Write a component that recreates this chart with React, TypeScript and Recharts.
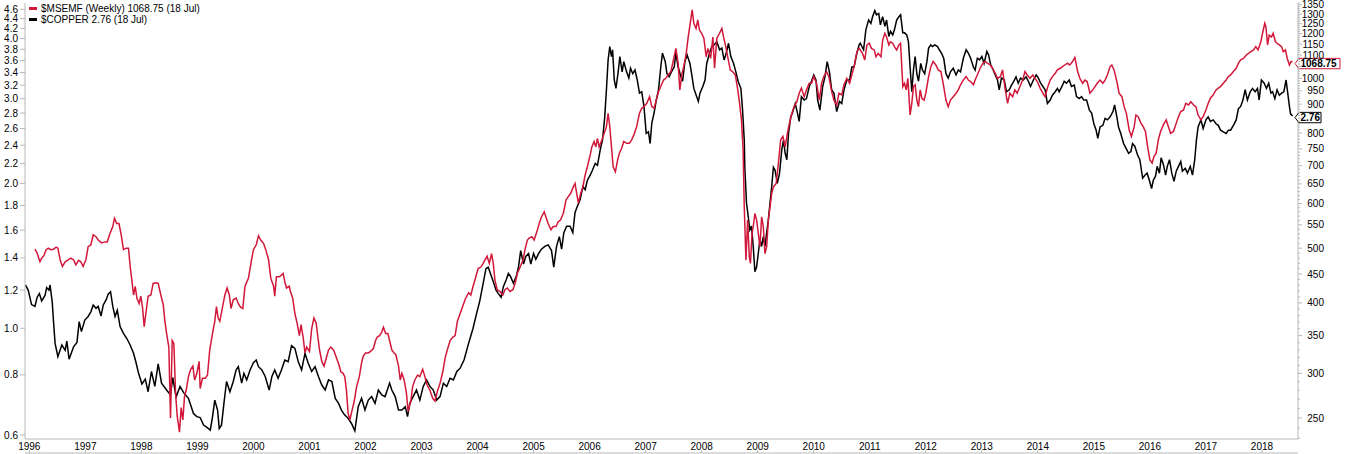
import React from "react";
import { LineChart, Line, XAxis, YAxis, ReferenceDot } from "recharts";

// $COPPER weekly (decimal year, price)
const copperSeries: [number, number][] = [
  [1995.93,1.23],[1995.98,1.2],[1996.04,1.12],[1996.1,1.11],[1996.14,1.16],[1996.18,1.18],[1996.22,1.14],[1996.28,1.17],[1996.31,1.215],[1996.35,1.2],[1996.37,1.23],[1996.41,1.13],[1996.43,1.04],[1996.46,0.93],[1996.51,0.873],[1996.58,0.923],[1996.64,0.9],[1996.67,0.94],[1996.71,0.862],[1996.79,0.915],[1996.85,0.934],[1996.89,1.032],[1996.93,0.984],[1996.99,1.04],
  [1997.05,1.058],[1997.1,1.083],[1997.14,1.118],[1997.19,1.1],[1997.23,1.11],[1997.28,1.06],[1997.32,1.118],[1997.37,1.145],[1997.41,1.178],[1997.45,1.19],[1997.49,1.11],[1997.53,1.058],[1997.57,1.09],[1997.62,1.008],[1997.68,0.976],[1997.74,0.952],[1997.8,0.923],[1997.86,0.887],[1997.9,0.853],[1997.95,0.806],
  [1998.01,0.766],[1998.07,0.784],[1998.12,0.738],[1998.18,0.813],[1998.24,0.757],[1998.3,0.843],[1998.36,0.769],[1998.45,0.744],[1998.52,0.727],[1998.56,0.79],[1998.62,0.72],[1998.69,0.757],[1998.76,0.733],[1998.84,0.715],[1998.93,0.665],[1998.99,0.655],
  [1999.05,0.652],[1999.11,0.629],[1999.17,0.622],[1999.23,0.614],[1999.27,0.655],[1999.31,0.709],[1999.36,0.676],[1999.39,0.619],[1999.43,0.629],[1999.48,0.709],[1999.52,0.775],[1999.58,0.738],[1999.64,0.775],[1999.69,0.819],[1999.73,0.832],[1999.79,0.769],[1999.83,0.806],[1999.88,0.781],[1999.94,0.819],
  [2000.0,0.848],[2000.05,0.859],[2000.09,0.832],[2000.15,0.819],[2000.21,0.794],[2000.28,0.744],[2000.33,0.794],[2000.38,0.819],[2000.44,0.787],[2000.5,0.819],[2000.56,0.859],[2000.62,0.852],[2000.68,0.92],[2000.74,0.908],[2000.8,0.852],[2000.86,0.819],[2000.92,0.887],[2000.98,0.845],
  [2001.04,0.813],[2001.1,0.832],[2001.16,0.794],[2001.22,0.762],[2001.28,0.744],[2001.34,0.781],[2001.4,0.775],[2001.46,0.715],[2001.52,0.698],[2001.57,0.676],[2001.63,0.66],[2001.69,0.65],[2001.75,0.634],[2001.81,0.612],[2001.87,0.687],[2001.93,0.715],[2001.99,0.676],
  [2002.05,0.709],[2002.11,0.721],[2002.17,0.698],[2002.23,0.744],[2002.29,0.727],[2002.35,0.721],[2002.43,0.769],[2002.47,0.744],[2002.53,0.721],[2002.59,0.676],[2002.65,0.676],[2002.71,0.687],[2002.75,0.655],[2002.79,0.698],[2002.85,0.721],[2002.91,0.744],[2002.97,0.709],
  [2003.03,0.757],[2003.09,0.781],[2003.15,0.757],[2003.21,0.744],[2003.27,0.709],[2003.33,0.721],[2003.39,0.769],[2003.45,0.757],[2003.51,0.787],[2003.57,0.781],[2003.63,0.813],[2003.69,0.826],[2003.76,0.86],[2003.84,0.93],[2003.92,1.0],[2003.98,1.07],
  [2004.04,1.14],[2004.1,1.24],[2004.15,1.33],[2004.19,1.34],[2004.23,1.3],[2004.28,1.25],[2004.33,1.2],[2004.37,1.18],[2004.42,1.16],[2004.46,1.22],[2004.51,1.26],[2004.55,1.3],[2004.59,1.28],[2004.64,1.24],[2004.69,1.28],[2004.73,1.34],[2004.77,1.45],[2004.82,1.36],[2004.86,1.41],[2004.91,1.43],[2004.95,1.36],
  [2005.0,1.43],[2005.04,1.39],[2005.09,1.43],[2005.14,1.46],[2005.2,1.48],[2005.26,1.49],[2005.32,1.45],[2005.36,1.34],[2005.41,1.48],[2005.46,1.55],[2005.5,1.46],[2005.54,1.58],[2005.59,1.63],[2005.65,1.63],[2005.7,1.58],[2005.74,1.74],[2005.78,1.79],[2005.83,1.85],[2005.88,1.97],[2005.92,1.94],[2005.96,2.03],
  [2006.01,2.08],[2006.05,2.13],[2006.1,2.2],[2006.14,2.18],[2006.19,2.35],[2006.23,2.46],[2006.27,2.75],[2006.3,3.13],[2006.33,3.61],[2006.36,3.85],[2006.39,3.67],[2006.41,3.79],[2006.44,3.28],[2006.47,3.15],[2006.51,3.41],[2006.54,3.67],[2006.58,3.41],[2006.61,3.58],[2006.66,3.41],[2006.7,3.31],[2006.73,3.47],[2006.77,3.38],[2006.81,3.44],[2006.85,3.28],[2006.89,3.08],[2006.93,3.1],[2006.97,2.89],
  [2007.01,2.54],[2007.05,2.56],[2007.08,2.42],[2007.11,2.67],[2007.15,2.8],[2007.19,2.98],[2007.23,3.13],[2007.27,3.49],[2007.3,3.73],[2007.35,3.58],[2007.38,3.38],[2007.42,3.33],[2007.46,3.41],[2007.51,3.49],[2007.54,3.73],[2007.58,3.49],[2007.63,3.33],[2007.66,3.26],[2007.7,3.58],[2007.74,3.7],[2007.79,3.55],[2007.82,3.38],[2007.86,3.15],[2007.91,3.03],[2007.94,2.96],[2007.97,3.08],
  [2008.02,3.18],[2008.06,3.28],[2008.09,3.55],[2008.14,3.73],[2008.18,3.85],[2008.22,3.88],[2008.27,3.94],[2008.32,3.79],[2008.36,3.82],[2008.4,3.61],[2008.43,3.7],[2008.48,3.91],[2008.52,3.67],[2008.57,3.55],[2008.61,3.41],[2008.65,3.26],[2008.7,3.15],[2008.73,2.84],[2008.76,2.46],[2008.77,2.16],[2008.8,1.82],[2008.83,1.71],[2008.86,1.6],[2008.89,1.63],[2008.92,1.48],[2008.95,1.31],[2008.98,1.34],
  [2009.01,1.43],[2009.04,1.53],[2009.07,1.48],[2009.1,1.55],[2009.13,1.48],[2009.16,1.58],[2009.19,1.68],[2009.22,1.82],[2009.25,1.97],[2009.28,2.16],[2009.31,2.13],[2009.35,2.0],[2009.39,2.1],[2009.43,2.35],[2009.46,2.46],[2009.49,2.31],[2009.52,2.24],[2009.55,2.54],[2009.59,2.75],[2009.62,2.8],[2009.67,2.93],[2009.71,2.8],[2009.74,2.69],[2009.78,3.03],[2009.83,2.98],[2009.87,3.0],[2009.92,3.18],[2009.96,3.26],
  [2010.0,3.36],[2010.04,3.28],[2010.07,2.98],[2010.11,2.84],[2010.16,3.18],[2010.2,3.33],[2010.24,3.58],[2010.28,3.41],[2010.32,3.13],[2010.36,3.08],[2010.41,2.82],[2010.46,2.96],[2010.5,2.93],[2010.54,3.13],[2010.59,3.28],[2010.64,3.28],[2010.68,3.49],[2010.72,3.49],[2010.77,3.73],[2010.81,3.88],
  [2010.83,3.91],[2010.89,3.79],[2010.93,4.17],[2010.98,4.37],[2011.02,4.3],[2011.05,4.44],[2011.09,4.57],[2011.12,4.48],[2011.16,4.51],[2011.19,4.27],[2011.23,4.44],[2011.27,4.24],[2011.3,4.37],[2011.34,4.04],[2011.37,4.14],[2011.41,4.07],[2011.44,4.17],[2011.48,4.37],[2011.52,4.44],[2011.55,4.48],[2011.59,4.11],[2011.62,4.11],[2011.66,4.07],[2011.69,3.94],[2011.72,3.49],[2011.75,3.1],[2011.78,3.44],[2011.81,3.67],[2011.84,3.38],[2011.87,3.26],[2011.91,3.55],[2011.94,3.44],[2011.98,3.38],
  [2012.02,3.58],[2012.05,3.82],[2012.09,3.88],[2012.12,3.85],[2012.16,3.88],[2012.21,3.85],[2012.24,3.79],[2012.28,3.73],[2012.32,3.64],[2012.36,3.38],[2012.4,3.31],[2012.44,3.41],[2012.49,3.47],[2012.54,3.36],[2012.58,3.44],[2012.62,3.41],[2012.67,3.64],[2012.72,3.79],[2012.76,3.73],[2012.8,3.64],[2012.85,3.49],[2012.88,3.44],[2012.92,3.64],[2012.96,3.61],
  [2013.0,3.67],[2013.04,3.55],[2013.09,3.76],[2013.12,3.7],[2013.16,3.52],[2013.19,3.47],[2013.24,3.36],[2013.28,3.28],[2013.31,3.13],[2013.35,3.31],[2013.4,3.28],[2013.44,3.1],[2013.49,3.13],[2013.53,3.2],[2013.57,3.26],[2013.61,3.33],[2013.65,3.23],[2013.69,3.31],[2013.74,3.28],[2013.79,3.33],[2013.83,3.26],[2013.87,3.18],[2013.92,3.28],[2013.97,3.36],
  [2014.01,3.31],[2014.05,3.23],[2014.09,3.18],[2014.13,3.13],[2014.17,2.93],[2014.22,2.98],[2014.26,3.05],[2014.31,3.1],[2014.35,3.15],[2014.38,3.1],[2014.43,3.18],[2014.47,3.26],[2014.51,3.23],[2014.56,3.28],[2014.6,3.18],[2014.65,3.2],[2014.69,3.03],[2014.74,3.0],[2014.78,3.03],[2014.82,2.98],[2014.87,2.98],[2014.92,2.84],[2014.96,2.8],
  [2015.0,2.66],[2015.04,2.58],[2015.07,2.48],[2015.11,2.62],[2015.16,2.64],[2015.2,2.73],[2015.24,2.71],[2015.29,2.75],[2015.34,2.82],[2015.37,2.91],[2015.41,2.75],[2015.44,2.62],[2015.48,2.54],[2015.53,2.42],[2015.57,2.37],[2015.62,2.31],[2015.66,2.33],[2015.69,2.42],[2015.73,2.39],[2015.78,2.29],[2015.82,2.24],[2015.87,2.05],[2015.91,2.08],[2015.95,2.1],[2015.99,2.03],
  [2016.03,1.95],[2016.06,2.03],[2016.1,2.07],[2016.13,2.17],[2016.17,2.1],[2016.2,2.26],[2016.24,2.19],[2016.28,2.08],[2016.31,2.17],[2016.35,2.24],[2016.39,2.1],[2016.43,2.02],[2016.47,2.12],[2016.51,2.17],[2016.55,2.22],[2016.58,2.12],[2016.63,2.15],[2016.67,2.1],[2016.72,2.17],[2016.76,2.08],[2016.8,2.24],[2016.83,2.46],[2016.86,2.62],[2016.91,2.71],[2016.95,2.6],
  [2017.0,2.71],[2017.04,2.75],[2017.08,2.69],[2017.13,2.71],[2017.18,2.66],[2017.22,2.64],[2017.26,2.58],[2017.31,2.56],[2017.36,2.54],[2017.4,2.58],[2017.44,2.58],[2017.49,2.64],[2017.54,2.71],[2017.58,2.86],[2017.62,2.89],[2017.66,2.98],[2017.7,3.13],[2017.74,2.98],[2017.79,3.1],[2017.83,3.15],[2017.88,3.1],[2017.92,3.15],[2017.95,2.98],[2017.99,3.28],
  [2018.04,3.23],[2018.08,3.15],[2018.12,3.23],[2018.16,3.08],[2018.19,3.1],[2018.23,3.0],[2018.27,3.13],[2018.31,3.05],[2018.35,3.08],[2018.39,3.1],[2018.43,3.28],[2018.46,3.08],[2018.49,2.89],[2018.51,2.79],[2018.545,2.76],
];

// $MSEMF weekly (decimal year, index level)
const msemfSeries: [number, number][] = [
  [1996.1,498],[1996.14,490],[1996.19,473],[1996.22,480],[1996.26,485],[1996.3,497],[1996.34,500],[1996.38,497],[1996.43,498],[1996.48,502],[1996.51,500],[1996.55,477],[1996.59,464],[1996.64,473],[1996.7,477],[1996.74,480],[1996.79,477],[1996.83,467],[1996.88,476],[1996.92,473],[1996.96,464],
  [1997.01,477],[1997.05,503],[1997.1,507],[1997.14,528],[1997.19,524],[1997.23,517],[1997.29,511],[1997.35,513],[1997.39,513],[1997.44,531],[1997.49,546],[1997.52,565],[1997.56,553],[1997.6,553],[1997.64,528],[1997.68,497],[1997.73,500],[1997.77,500],[1997.8,464],[1997.83,439],[1997.86,413],[1997.89,428],[1997.92,408],[1997.96,399],[1997.99,411],
  [1998.02,393],[1998.05,363],[1998.08,383],[1998.12,411],[1998.17,413],[1998.21,433],[1998.26,434],[1998.3,433],[1998.34,416],[1998.39,397],[1998.42,371],[1998.45,353],[1998.49,334],[1998.52,250],[1998.55,343],[1998.58,339],[1998.61,277],[1998.64,252],[1998.68,236],[1998.71,261],[1998.74,248],[1998.77,273],[1998.8,280],[1998.84,296],[1998.88,305],[1998.92,309],[1998.95,292],[1998.99,300],
  [1999.03,315],[1999.05,282],[1999.09,294],[1999.14,294],[1999.18,298],[1999.22,330],[1999.27,353],[1999.31,371],[1999.34,394],[1999.37,376],[1999.4,371],[1999.45,394],[1999.49,413],[1999.53,425],[1999.57,413],[1999.6,391],[1999.64,405],[1999.69,408],[1999.73,399],[1999.77,393],[1999.81,391],[1999.85,428],[1999.91,442],[1999.96,473],
  [2000.0,497],[2000.05,507],[2000.09,526],[2000.13,517],[2000.18,510],[2000.22,497],[2000.27,477],[2000.31,442],[2000.36,428],[2000.38,411],[2000.41,445],[2000.46,445],[2000.5,448],[2000.53,451],[2000.56,436],[2000.59,425],[2000.64,428],[2000.66,419],[2000.7,408],[2000.74,383],[2000.78,368],[2000.82,350],[2000.85,366],[2000.89,346],[2000.92,326],[2000.95,334],
  [2001.0,328],[2001.04,360],[2001.08,376],[2001.12,368],[2001.15,348],[2001.18,330],[2001.22,315],[2001.26,309],[2001.31,322],[2001.34,330],[2001.38,334],[2001.43,330],[2001.47,322],[2001.52,312],[2001.56,302],[2001.6,300],[2001.63,296],[2001.66,280],[2001.69,255],[2001.72,248],[2001.76,258],[2001.8,268],[2001.84,284],[2001.89,296],[2001.93,313],[2001.96,322],
  [2002.0,326],[2002.05,326],[2002.09,328],[2002.14,332],[2002.18,343],[2002.21,348],[2002.25,350],[2002.29,355],[2002.32,362],[2002.36,353],[2002.4,353],[2002.43,343],[2002.47,330],[2002.51,326],[2002.54,324],[2002.59,309],[2002.62,292],[2002.65,300],[2002.69,292],[2002.73,277],[2002.76,257],[2002.81,268],[2002.84,284],[2002.88,292],[2002.93,298],[2002.97,296],
  [2003.02,305],[2003.06,296],[2003.1,286],[2003.15,280],[2003.2,271],[2003.24,268],[2003.28,278],[2003.33,288],[2003.38,302],[2003.42,319],[2003.46,330],[2003.51,343],[2003.56,348],[2003.6,350],[2003.64,371],[2003.69,383],[2003.78,406],[2003.84,417],[2003.88,413],[2003.92,428],[2003.97,445],
  [2004.01,460],[2004.06,463],[2004.1,470],[2004.15,480],[2004.17,484],[2004.21,470],[2004.25,489],[2004.28,470],[2004.31,439],[2004.35,422],[2004.4,419],[2004.45,413],[2004.49,422],[2004.53,425],[2004.58,419],[2004.63,422],[2004.67,433],[2004.71,451],[2004.76,463],[2004.81,476],[2004.85,499],[2004.89,517],[2004.92,521],[2004.97,524],
  [2005.01,517],[2005.06,535],[2005.1,553],[2005.14,568],[2005.19,580],[2005.22,568],[2005.26,553],[2005.31,539],[2005.35,546],[2005.4,546],[2005.44,557],[2005.48,561],[2005.53,576],[2005.58,609],[2005.62,617],[2005.66,625],[2005.71,642],[2005.74,651],[2005.77,625],[2005.8,601],[2005.84,625],[2005.88,642],[2005.92,674],[2005.96,697],
  [2006.01,731],[2006.04,756],[2006.08,773],[2006.11,756],[2006.14,783],[2006.17,756],[2006.22,778],[2006.26,799],[2006.3,821],[2006.33,867],[2006.36,821],[2006.39,756],[2006.42,697],[2006.46,683],[2006.5,717],[2006.53,736],[2006.57,751],[2006.61,773],[2006.66,767],[2006.71,767],[2006.75,778],[2006.79,794],[2006.84,821],[2006.89,867],[2006.93,885],[2006.97,891],
  [2007.02,903],[2007.07,928],[2007.11,891],[2007.15,885],[2007.19,915],[2007.23,948],[2007.27,967],[2007.32,993],[2007.36,1000],[2007.4,1014],[2007.45,1028],[2007.49,1071],[2007.54,1130],[2007.58,1064],[2007.61,954],[2007.65,1021],[2007.68,1049],[2007.72,1100],[2007.76,1184],[2007.8,1260],[2007.83,1322],[2007.86,1252],[2007.9,1226],[2007.93,1269],[2007.96,1218],
  [2008.0,1202],[2008.04,1177],[2008.08,1092],[2008.11,1130],[2008.16,1085],[2008.2,1184],[2008.23,1042],[2008.27,1177],[2008.32,1202],[2008.36,1226],[2008.39,1184],[2008.43,1138],[2008.47,1085],[2008.51,1035],[2008.55,1028],[2008.6,1014],[2008.64,961],[2008.67,915],[2008.71,844],[2008.74,746],[2008.76,592],[2008.79,476],[2008.82,561],[2008.85,483],[2008.87,470],[2008.9,532],[2008.92,546],[2008.95,576],[2008.98,561],
  [2009.01,532],[2009.04,503],[2009.07,568],[2009.1,546],[2009.13,489],[2009.16,503],[2009.19,561],[2009.22,592],[2009.25,625],[2009.28,642],[2009.33,651],[2009.37,708],[2009.41,778],[2009.45,789],[2009.49,756],[2009.53,799],[2009.56,827],[2009.61,867],[2009.65,891],[2009.7,909],[2009.74,941],[2009.78,961],[2009.83,928],[2009.87,954],[2009.92,980],[2009.96,980],
  [2010.0,1007],[2010.05,980],[2010.1,915],[2010.14,980],[2010.18,1007],[2010.23,1028],[2010.27,1007],[2010.32,948],[2010.36,915],[2010.41,897],[2010.45,941],[2010.5,935],[2010.54,974],[2010.59,1000],[2010.64,980],[2010.68,1014],[2010.72,1049],[2010.77,1115],[2010.81,1130],
  [2010.87,1107],[2010.91,1078],[2010.95,1146],[2010.99,1154],[2011.03,1130],[2011.08,1123],[2011.11,1092],[2011.15,1107],[2011.2,1092],[2011.23,1169],[2011.27,1202],[2011.3,1184],[2011.34,1146],[2011.37,1161],[2011.41,1154],[2011.44,1138],[2011.48,1123],[2011.52,1146],[2011.55,1154],[2011.59,967],[2011.62,980],[2011.65,954],[2011.68,1000],[2011.72,861],[2011.75,903],[2011.78,967],[2011.81,974],[2011.84,915],[2011.87,891],[2011.9,954],[2011.93,922],[2011.97,915],
  [2012.0,941],[2012.05,1007],[2012.09,1049],[2012.13,1071],[2012.18,1056],[2012.22,1035],[2012.27,1028],[2012.31,980],[2012.36,915],[2012.4,891],[2012.44,915],[2012.49,928],[2012.54,941],[2012.58,954],[2012.62,974],[2012.67,993],[2012.72,1007],[2012.76,993],[2012.8,987],[2012.85,974],[2012.88,993],[2012.92,1014],[2012.97,1042],
  [2013.02,1064],[2013.06,1071],[2013.1,1064],[2013.15,1056],[2013.19,1042],[2013.24,1021],[2013.28,1000],[2013.33,1007],[2013.37,1035],[2013.41,967],[2013.46,903],[2013.5,941],[2013.55,928],[2013.59,954],[2013.63,941],[2013.68,967],[2013.73,993],[2013.77,1028],[2013.81,1014],[2013.86,1000],[2013.91,1014],[2013.95,1000],[2013.99,987],
  [2014.04,961],[2014.09,941],[2014.13,928],[2014.17,961],[2014.22,993],[2014.26,1007],[2014.31,1021],[2014.35,1035],[2014.4,1042],[2014.44,1049],[2014.48,1056],[2014.53,1064],[2014.57,1056],[2014.62,1071],[2014.66,1089],[2014.71,1028],[2014.75,1000],[2014.8,980],[2014.84,993],[2014.88,987],[2014.93,941],[2014.98,954],
  [2015.02,967],[2015.06,980],[2015.11,993],[2015.16,980],[2015.2,993],[2015.24,1014],[2015.29,1049],[2015.32,1056],[2015.36,1035],[2015.41,987],[2015.45,941],[2015.5,928],[2015.54,891],[2015.58,867],[2015.63,810],[2015.67,789],[2015.72,821],[2015.75,861],[2015.79,855],[2015.84,833],[2015.88,821],[2015.92,805],[2015.96,756],
  [2016.0,717],[2016.04,708],[2016.07,726],[2016.11,736],[2016.15,778],[2016.19,805],[2016.24,827],[2016.29,844],[2016.33,821],[2016.37,799],[2016.42,805],[2016.47,833],[2016.51,855],[2016.55,873],[2016.6,879],[2016.64,903],[2016.69,897],[2016.73,909],[2016.78,897],[2016.82,891],[2016.86,861],[2016.91,844],[2016.95,855],
  [2017.0,879],[2017.04,903],[2017.08,922],[2017.13,935],[2017.18,954],[2017.22,961],[2017.26,967],[2017.31,980],[2017.36,993],[2017.4,1007],[2017.44,1014],[2017.49,1028],[2017.54,1042],[2017.58,1064],[2017.62,1078],[2017.67,1085],[2017.72,1100],[2017.76,1107],[2017.8,1115],[2017.85,1123],[2017.89,1138],[2017.93,1123],[2017.98,1161],
  [2018.01,1202],[2018.05,1252],[2018.07,1235],[2018.1,1146],[2018.13,1193],[2018.17,1184],[2018.2,1202],[2018.24,1161],[2018.27,1154],[2018.31,1146],[2018.35,1138],[2018.38,1115],[2018.42,1123],[2018.45,1085],[2018.49,1056],[2018.52,1071],[2018.545,1068.75],
];

const yearTicks = [1996,1997,1998,1999,2000,2001,2002,2003,2004,2005,2006,2007,2008,2009,2010,2011,2012,2013,2014,2015,2016,2017,2018];
const copperTicks = [0.6,0.8,1.0,1.2,1.4,1.6,1.8,2.0,2.2,2.4,2.6,2.8,3.0,3.2,3.4,3.6,3.8,4.0,4.2,4.4,4.6];
const msemfLabelTicks = [250,300,350,400,450,500,550,600,650,700,750,800,850,900,950,1000,1050,1100,1150,1200,1250,1300,1350];
const msemfHiddenLabels = [850, 1050];
const msemfMinorTicks: number[] = [];
for (let v = 230; v <= 1360; v += 10) msemfMinorTicks.push(v);

const copperData = copperSeries.map(([t, v]) => ({ t, v }));
const msemfData = msemfSeries.map(([t, v]) => ({ t, v }));
const lastCopper = copperSeries[copperSeries.length - 1];
const lastMsemf = msemfSeries[msemfSeries.length - 1];

const X_DOMAIN: [number, number] = [1995.923, 2018.643];
const LEFT_DOMAIN: [number, number] = [0.5886, 4.741];
const RIGHT_DOMAIN: [number, number] = [229.5, 1360];

const RED = "#d2183a";
const AXIS = "#b8b8b8";
const FONT = "'Liberation Sans', Arial, sans-serif";

const XTick = (props: any) => {
  const { x, y, payload } = props;
  return (
    <g>
      <line x1={x} x2={x} y1={y + 11} y2={y + 14} stroke={AXIS} />
      <text x={x} y={y + 7} dy="0.355em" textAnchor="middle" fontSize={10} fontFamily={FONT} fill="#000">
        {payload.value}
      </text>
    </g>
  );
};

const LeftTick = (props: any) => {
  const { x, y, payload } = props;
  return (
    <g>
      <line x1={x} x2={x - 5} y1={y} y2={y} stroke={AXIS} />
      <text x={x - 7} y={y} dy="0.355em" textAnchor="end" fontSize={10} fontFamily={FONT} fill="#000">
        {payload.value.toFixed(1)}
      </text>
    </g>
  );
};

const RightTick = (props: any) => {
  const { x, y, payload } = props;
  const v = payload.value;
  const major = msemfLabelTicks.includes(v);
  return (
    <g>
      <line x1={x} x2={x + (major ? 4 : 2)} y1={y} y2={y} stroke={AXIS} />
      {major && !msemfHiddenLabels.includes(v) && (
        <text x={x + 26} y={y} dy="0.355em" textAnchor="end" fontSize={10} fontFamily={FONT} fill="#000">
          {v}
        </text>
      )}
    </g>
  );
};

const makeBox = (label: string, color: string, w: number) => (props: any) => {
  const { cx } = props;
  const cy = props.cy + 1.5;
  const tip = cx + 2.5;
  const x0 = tip + 4;
  const h = 5.2;
  return (
    <g>
      <polygon
        points={`${tip},${cy} ${x0},${cy - h} ${x0 + w},${cy - h} ${x0 + w},${cy + h} ${x0},${cy + h}`}
        fill="#fff"
        stroke={color}
        strokeWidth={1}
      />
      <text x={x0 + 1.5} y={cy} dy="0.355em" fontSize={10} fontWeight="bold" fontFamily={FONT} fill="#000">
        {label}
      </text>
    </g>
  );
};

export default function App() {
  return (
    <div style={{ position: "absolute", left: 0, top: 0, width: 1360, height: 454, background: "#fff" }}>
      <LineChart width={1360} height={454} margin={{ top: 3, right: 0, bottom: 0, left: 0 }} style={{ fontFamily: FONT }}>
        <XAxis
          xAxisId={0}
          dataKey="t"
          type="number"
          domain={X_DOMAIN}
          allowDataOverflow
          ticks={yearTicks}
          interval={0}
          height={14}
          tickSize={0}
          tickMargin={0}
          tickLine={false}
          axisLine={{ stroke: AXIS }}
          tick={<XTick />}
        />
        <XAxis xAxisId="b2" dataKey="t" type="number" domain={X_DOMAIN} allowDataOverflow height={1} tick={false} tickLine={false} axisLine={{ stroke: AXIS }} />
        <XAxis xAxisId="top" orientation="top" dataKey="t" type="number" domain={X_DOMAIN} allowDataOverflow height={0} tick={false} tickLine={false} axisLine={{ stroke: AXIS }} />
        <YAxis
          yAxisId="left"
          orientation="left"
          type="number"
          scale="log"
          domain={LEFT_DOMAIN}
          allowDataOverflow
          ticks={copperTicks}
          interval={0}
          width={25}
          tickSize={0}
          tickMargin={0}
          tickLine={false}
          axisLine={{ stroke: AXIS }}
          tick={<LeftTick />}
        />
        <YAxis
          yAxisId="right"
          orientation="right"
          type="number"
          scale="log"
          domain={RIGHT_DOMAIN}
          allowDataOverflow
          ticks={msemfMinorTicks}
          interval={0}
          width={62}
          tickSize={0}
          tickMargin={0}
          tickLine={false}
          axisLine={{ stroke: AXIS }}
          tick={<RightTick />}
        />
        <Line
          data={copperData}
          dataKey="v"
          xAxisId={0}
          yAxisId="left"
          type="linear"
          stroke="#000"
          strokeWidth={1.5}
          dot={false}
          activeDot={false}
          isAnimationActive={false}
        />
        <Line
          data={msemfData}
          dataKey="v"
          xAxisId={0}
          yAxisId="right"
          type="linear"
          stroke={RED}
          strokeWidth={1.5}
          dot={false}
          activeDot={false}
          isAnimationActive={false}
        />
        <ReferenceDot
          xAxisId={0}
          yAxisId="right"
          x={lastMsemf[0]}
          y={lastMsemf[1]}
          ifOverflow="visible"
          shape={makeBox("1068.75", RED, 41)}
        />
        <ReferenceDot
          xAxisId={0}
          yAxisId="left"
          x={lastCopper[0]}
          y={lastCopper[1]}
          ifOverflow="visible"
          shape={makeBox("2.76", "#000", 22)}
        />
      </LineChart>
      <div style={{ position: "absolute", left: 29, top: 3, fontFamily: FONT, fontSize: 10, lineHeight: "11px", color: "#000" }}>
        <div style={{ display: "flex", alignItems: "center", height: 11 }}>
          <span style={{ display: "inline-block", width: 8, height: 2.5, background: RED, marginRight: 4 }} />
          <span>$MSEMF (Weekly) 1068.75 (18 Jul)</span>
        </div>
        <div style={{ display: "flex", alignItems: "center", height: 11 }}>
          <span style={{ display: "inline-block", width: 8, height: 2.5, background: "#000", marginRight: 4 }} />
          <span>$COPPER 2.76 (18 Jul)</span>
        </div>
      </div>
    </div>
  );
}
